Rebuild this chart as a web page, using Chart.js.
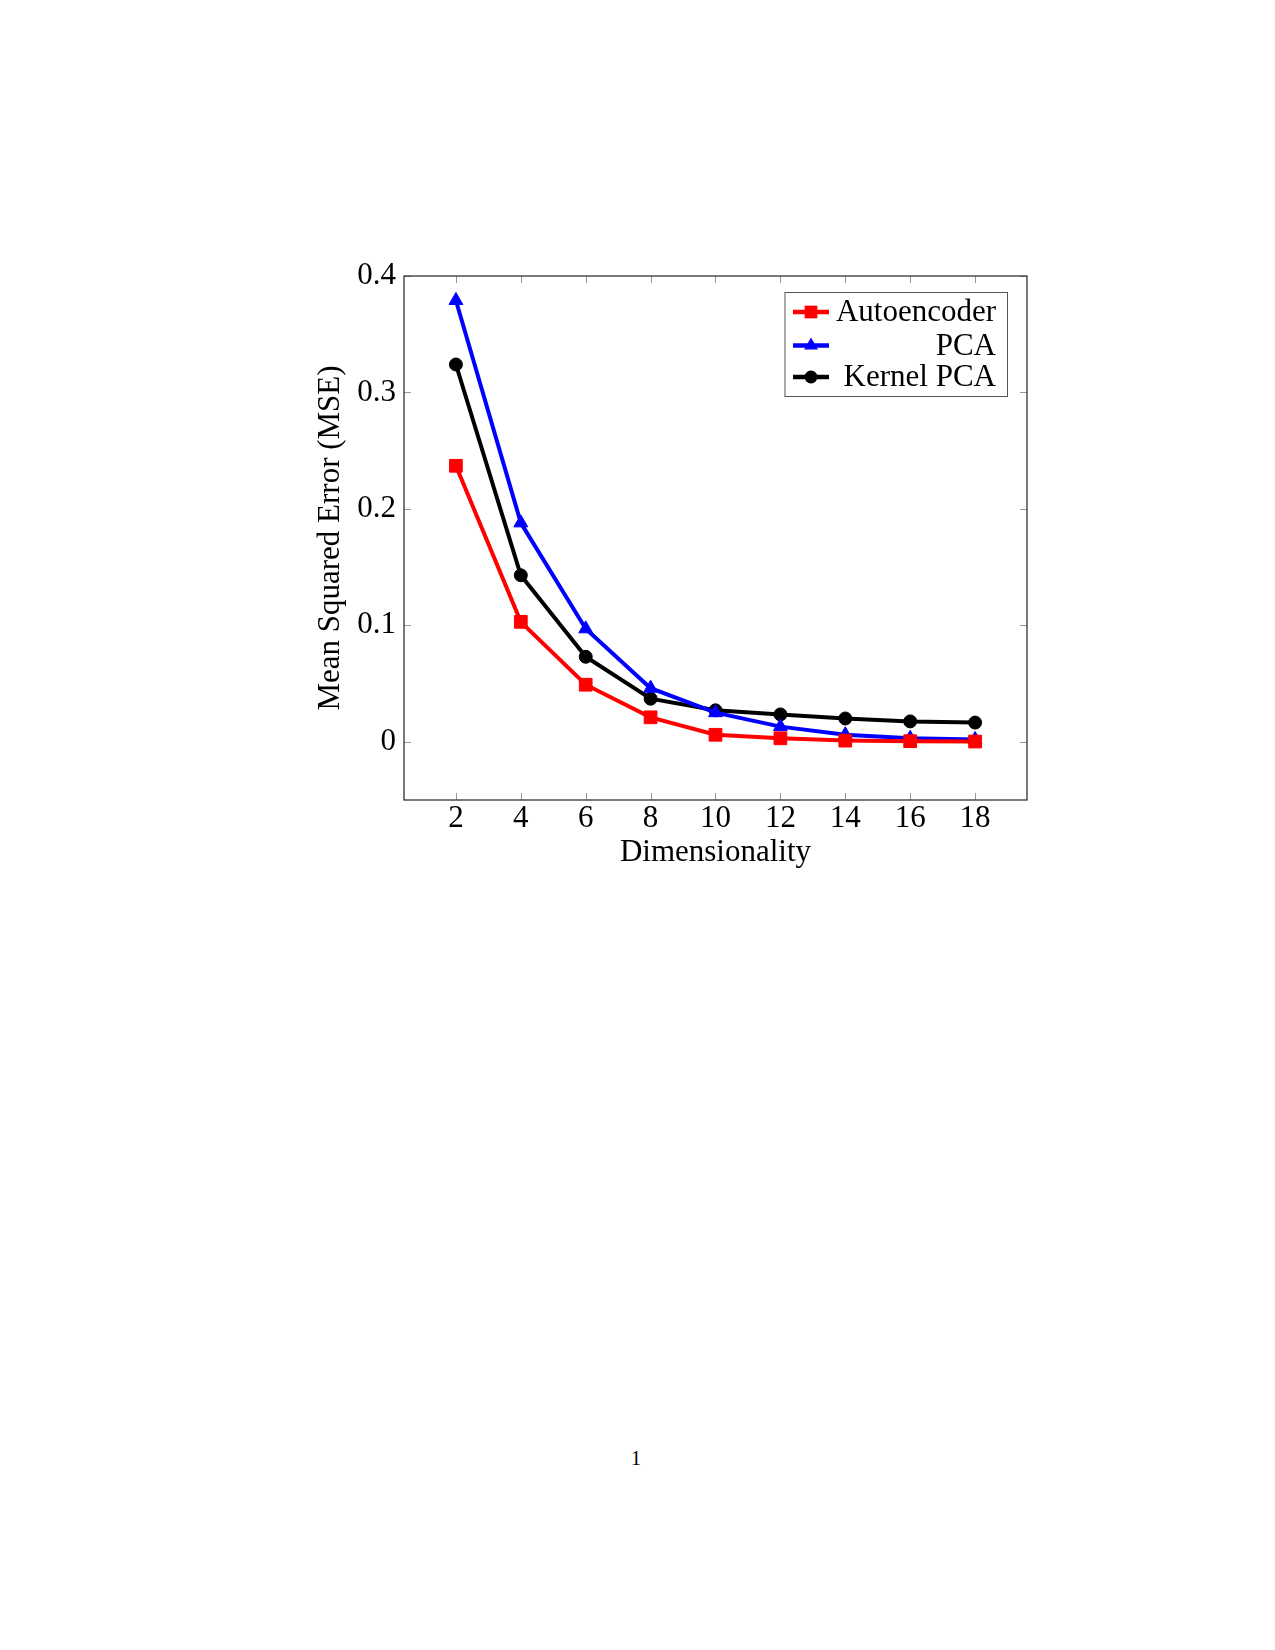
<!DOCTYPE html>
<html>
<head>
<meta charset="utf-8">
<title>MSE vs Dimensionality</title>
<script src="https://cdn.jsdelivr.net/npm/chart.js@4.4.1/dist/chart.umd.min.js"></script>
<style>
  html, body { margin: 0; padding: 0; background: #fff; }
  body { width: 1275px; height: 1650px; position: relative; overflow: hidden; }
  #wrap { position: absolute; left: 290px; top: 250px; width: 760px; height: 630px; }
  #pageNum {
    position: absolute; left: 616px; top: 1447px; width: 40px; text-align: center;
    font-family: 'Liberation Serif', serif; font-size: 20px; color: #000;
  }
</style>
</head>
<body>
<div id="wrap"><canvas id="mseChart"></canvas></div>
<div id="pageNum">1</div>

<script>
// data
const dims = [2, 4, 6, 8, 10, 12, 14, 16, 18];
const autoencoder = [0.237, 0.103, 0.049, 0.021, 0.006, 0.003, 0.001, 0.0005, 0.0002];
const pca = [0.379, 0.188, 0.097, 0.046, 0.025, 0.013, 0.006, 0.003, 0.002];
const kernelPca = [0.324, 0.143, 0.073, 0.037, 0.027, 0.0235, 0.020, 0.0175, 0.0165];

const xTicks = [2, 4, 6, 8, 10, 12, 14, 16, 18];
const yTicks = [0, 0.1, 0.2, 0.3, 0.4];

const FONT = "'Liberation Serif', 'Times New Roman', serif";
const FONT_SIZE = 31;
Chart.defaults.font.family = FONT;
Chart.defaults.font.size = FONT_SIZE;
Chart.defaults.color = '#000';

function toPoints(vals) {
  return dims.map((d, i) => ({ x: d, y: vals[i] }));
}

function series(label, vals, color, style, radius) {
  return {
    label: label,
    data: toPoints(vals),
    borderColor: color,
    backgroundColor: color,
    borderWidth: 4,
    pointStyle: style,
    pointRadius: radius,
    pointHoverRadius: radius,
    pointBorderWidth: 1,
    pointBackgroundColor: color,
    pointBorderColor: color,
    tension: 0,
    fill: false
  };
}

// small marker drawer for the legend
function marker(ctx, style, x, y, r, color) {
  ctx.save();
  ctx.fillStyle = color;
  ctx.beginPath();
  if (style === 'rect') {
    const s = r * Math.SQRT1_2;
    ctx.rect(x - s, y - s, 2 * s, 2 * s);
  } else if (style === 'triangle') {
    const a = 2 * Math.PI / 3;
    for (let k = 0; k < 3; k++) {
      const px = x + Math.sin(k * a) * r;
      const py = y - Math.cos(k * a) * r;
      if (k === 0) ctx.moveTo(px, py); else ctx.lineTo(px, py);
    }
    ctx.closePath();
  } else {
    ctx.arc(x, y, r, 0, Math.PI * 2);
  }
  ctx.fill();
  ctx.restore();
}

// pgfplots-like frame with inward ticks on all four sides
const framePlugin = {
  id: 'frame',
  beforeDatasetsDraw(chart) {
    const { ctx, chartArea: a, scales } = chart;
    ctx.save();
    ctx.strokeStyle = '#999';
    ctx.lineWidth = 1;
    const tl = 7;
    scales.x.ticks.forEach(t => {
      const px = Math.round(scales.x.getPixelForValue(t.value)) + 0.5;
      ctx.beginPath();
      ctx.moveTo(px, a.bottom); ctx.lineTo(px, a.bottom - tl);
      ctx.moveTo(px, a.top); ctx.lineTo(px, a.top + tl);
      ctx.stroke();
    });
    scales.y.ticks.forEach(t => {
      const py = Math.round(scales.y.getPixelForValue(t.value)) + 0.5;
      ctx.beginPath();
      ctx.moveTo(a.left, py); ctx.lineTo(a.left + tl, py);
      ctx.moveTo(a.right, py); ctx.lineTo(a.right - tl, py);
      ctx.stroke();
    });
    ctx.strokeStyle = '#333';
    ctx.lineWidth = 1.3;
    ctx.strokeRect(a.left, a.top, a.right - a.left, a.bottom - a.top);
    ctx.restore();
  }
};

const legendPlugin = {
  id: 'boxLegend',
  afterDraw(chart) {
    const { ctx, chartArea: a } = chart;
    const left = a.right - 242, right = a.right - 19.5;
    const top = a.top + 16.5, bottom = a.top + 120.5;
    ctx.save();
    ctx.fillStyle = '#fff';
    ctx.fillRect(left, top, right - left, bottom - top);
    ctx.strokeStyle = '#555';
    ctx.lineWidth = 1;
    ctx.strokeRect(left, top, right - left, bottom - top);
    const rows = [36, 69.5, 101];
    chart.data.datasets.forEach((ds, i) => {
      const y = a.top + rows[i];
      const x0 = a.right - 234, x1 = a.right - 198;
      ctx.strokeStyle = ds.borderColor;
      ctx.lineWidth = 4.5;
      ctx.beginPath();
      ctx.moveTo(x0, y); ctx.lineTo(x1, y);
      ctx.stroke();
      marker(ctx, ds.pointStyle, (x0 + x1) / 2, y, ds.pointRadius, ds.borderColor);
      ctx.fillStyle = '#000';
      ctx.font = FONT_SIZE + 'px ' + FONT;
      ctx.textAlign = 'right';
      ctx.textBaseline = 'middle';
      ctx.fillText(ds.label, a.right - 31, y + 1);
    });
    ctx.restore();
  }
};

new Chart(document.getElementById('mseChart').getContext('2d'), {
  type: 'line',
  data: {
    datasets: [
      series('Autoencoder', autoencoder, '#ff0000', 'rect', 9),
      series('PCA', pca, '#0000ff', 'triangle', 8),
      series('Kernel PCA', kernelPca, '#000000', 'circle', 6.5)
    ]
  },
  options: {
    responsive: true,
    maintainAspectRatio: false,
    animation: false,
    devicePixelRatio: 1,
    layout: { padding: { top: 26, right: 23, left: 0, bottom: 0 } },
    plugins: {
      legend: { display: false },
      tooltip: { enabled: false }
    },
    scales: {
      x: {
        type: 'linear',
        min: 0.4,
        max: 19.6,
        grid: { display: false },
        border: { display: false },
        afterBuildTicks: s => { s.ticks = xTicks.map(v => ({ value: v })); },
        afterFit: s => { s.height = 80; },
        ticks: { padding: -8, maxRotation: 0, autoSkip: false },
        title: { display: true, text: 'Dimensionality', padding: { top: 0, bottom: 9 } }
      },
      y: {
        min: -0.05,
        max: 0.4,
        grid: { display: false },
        border: { display: false },
        afterBuildTicks: s => { s.ticks = yTicks.map(v => ({ value: v })); },
        afterFit: s => { s.width = 114; },
        ticks: { padding: 0, callback: v => String(v) },
        title: { display: true, text: 'Mean Squared Error (MSE)', padding: { top: 22, bottom: 0 } }
      }
    }
  },
  plugins: [framePlugin, legendPlugin]
});
</script>
</body>
</html>
